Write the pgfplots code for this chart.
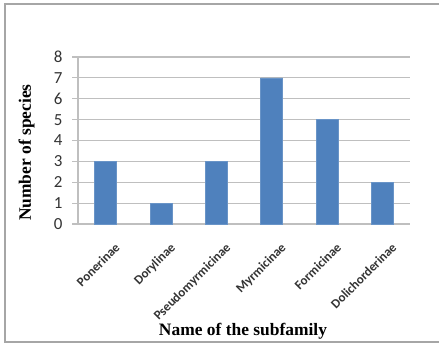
\documentclass[border=0pt]{standalone}
\usepackage{fontspec}
\setmainfont{Carlito}
\newfontfamily\titlefont{Liberation Serif}
\usepackage{pgfplots}
\pgfplotsset{compat=1.18}
\definecolor{barblue}{HTML}{4F81BD}
\definecolor{gridgray}{HTML}{BFBFBF}
\definecolor{framegray}{HTML}{A6A6A6}

\begin{document}
\begin{tikzpicture}[x=1bp,y=1bp]
\useasboundingbox (0,0) rectangle (439,343);
\draw[framegray, line width=1.5bp] (439,339) -- (5,339) -- (5,1) -- (439,1);
\begin{axis}[
  at={(78bp,119bp)}, anchor=south west, scale only axis,
  width=332bp, height=167bp,
  xmin=-0.5, xmax=5.5, ymin=0, ymax=8,
  ybar, bar width=22bp,
  xtick={0,...,5},
  xticklabels={Ponerinae,Dorylinae,Pseudomyrmicinae,Myrmicinae,Formicinae,Dolichorderinae},
  ytick={0,...,8},
  /pgf/number format/assume math mode=true,
  axis x line*=bottom, axis y line*=left,
  axis line style={-, gridgray, line width=1.2bp},
  ymajorgrids, grid style={gridgray, line width=1.2bp},
  tick align=outside, major tick length=6bp,
  xtick style={draw=none},
  ytick style={gridgray, line width=1.2bp},
  yticklabel style={font=\fontsize{17}{17}\selectfont, text=black!80, xshift=-6bp},
  xticklabel style={font=\bfseries\fontsize{13}{13}\selectfont, text=black!80,
    rotate=45, anchor=north east, xshift=1bp, yshift=-11bp},
  ylabel={\titlefont\bfseries\fontsize{17.5}{17.5}\selectfont Number of species},
  ylabel style={at={(axis description cs:-0.155,0.428)}, anchor=center, rotate=0},
  xlabel={\titlefont\bfseries\fontsize{17.5}{17.5}\selectfont Name of the subfamily},
  xlabel style={at={(axis description cs:0.497,-0.644)}, anchor=center},
]
\addplot[fill=barblue, draw=barblue!85!white] coordinates
  {(0,3) (1,1) (2,3) (3,7) (4,5) (5,2)};
\end{axis}
\end{tikzpicture}
\end{document}
